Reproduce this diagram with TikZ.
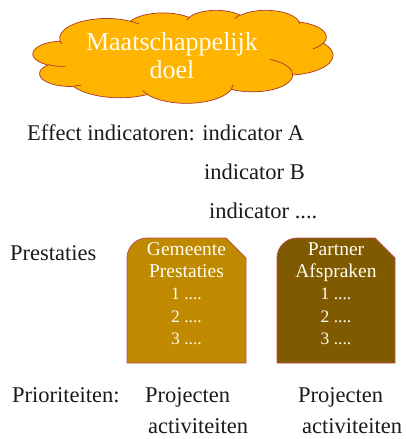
\documentclass[tikz,border=0pt]{standalone}
\usepackage{fontspec}
\setmainfont{Liberation Serif}
\definecolor{cloudfill}{HTML}{FFB400}
\definecolor{cloudedge}{HTML}{A8382C}
\definecolor{boxedge}{HTML}{C0504D}
\definecolor{goldbox}{HTML}{BF8A00}
\definecolor{brownbox}{HTML}{7F5A00}
\definecolor{ink}{HTML}{1A1A1A}
\definecolor{paper}{HTML}{FFFDF0}
\tikzset{
  label/.style={anchor=base west, inner sep=0pt, text=ink, font=\fontsize{22.5}{26}\selectfont},
  boxtext/.style={anchor=base, inner sep=0pt, text=paper, font=\fontsize{19.5}{22}\selectfont},
  numtext/.style={anchor=base, inner sep=0pt, text=paper, font=\fontsize{17.5}{20}\selectfont},
  cloudtext/.style={anchor=base, inner sep=0pt, text=paper, font=\fontsize{26}{29}\selectfont},
  tab/.style={draw=boxedge, line width=0.8pt},
  puff/.style={draw=cloudedge, line width=0.7pt},
}
% Elliptic arc given by its radii and the true (not parametric) start angle
% and sweep, in degrees; stored as an "arc[...]" path piece in \arc<name>.
\newcommand\prearc[5]{%
  \pgfmathsetmacro\tmpa{atan2((#2)*sin(#4),(#3)*cos(#4))}%
  \pgfmathsetmacro\tmpb{atan2((#2)*sin((#4)+(#5)),(#3)*cos((#4)+(#5)))}%
  \pgfmathsetmacro\tmpd{\tmpb-(\tmpa)}%
  \pgfmathsetmacro\tmpd{\tmpd<0 ? \tmpd+360 : \tmpd}%
  \expandafter\xdef\csname arc#1\endcsname{arc[x radius=#2, y radius=#3, start angle=\tmpa, delta angle=\tmpd]}}
% cloud outline
\prearc{A}{675.3}{919.0}{-190.4875}{123.7805}
\prearc{B}{533.3}{726.7}{-144.1024}{89.9452}
\prearc{C}{436.5}{594.5}{-145.8079}{99.7230}
\prearc{D}{485.7}{659.5}{-130.9861}{117.2417}
\prearc{E}{533.3}{727.3}{-78.7089}{109.0269}
\prearc{F}{677.5}{922.0}{-46.2673}{130.2690}
\prearc{G}{578.5}{786.7}{0.6250}{114.0333}
\prearc{H}{675.2}{921.5}{22.4516}{115.1726}
\prearc{I}{772.0}{1054.3}{66.2426}{75.7110}
\prearc{J}{436.0}{591.8}{-274.9421}{146.7356}
\prearc{K}{434.5}{594.5}{-246.8285}{152.5189}
% inner puff strokes
\prearc{a}{434.5}{594.5}{86.7420}{26.4295}
\prearc{b}{436.0}{591.8}{73.6105}{11.4475}
\prearc{c}{675.2}{921.5}{137.6242}{14.0811}
\prearc{d}{675.2}{921.5}{6.4533}{15.9984}
\prearc{e}{578.5}{786.7}{-70.2924}{70.9174}
\prearc{f}{533.3}{727.3}{30.3180}{27.7515}
\prearc{g}{485.7}{659.5}{-13.7443}{14.8589}
\prearc{h}{485.7}{659.5}{-149.1815}{18.1954}
\prearc{i}{436.5}{594.5}{-163.4943}{17.6864}
\prearc{j}{675.3}{919.0}{-66.7070}{12.3194}
\prearc{k}{675.3}{919.0}{157.6544}{11.8582}
\begin{document}
\begin{tikzpicture}[x=1pt, y=-1pt]
\useasboundingbox (0,0) rectangle (406,439);

% goal cloud, drawn in a 4320 x 4320 frame scaled onto its box
\begin{scope}[shift={(33,10)}, x=0.069444pt, y=-0.021528pt]
  \draw[puff, fill=cloudfill] (390,1437) \arcA \arcB \arcC \arcD \arcE \arcF
    \arcG \arcH \arcI \arcJ \arcK -- cycle;
  \draw[puff] (469.3,2617.7) \arca;
  \draw[puff] (692.8,3489.9) \arcb;
  \draw[puff] (1647.8,3909.0) \arcc;
  \draw[puff] (2882.7,3475.1) \arcd;
  \draw[puff] (3412.9,2295.4) \arce;
  \draw[puff] (4179.8,1535.4) \arcf;
  \draw[puff] (3832.4,542.6) \arcg;
  \draw[puff] (2907.8,395.2) \arch;
  \draw[puff] (2214.1,472.0) \arci;
  \draw[puff] (1400.0,519.2) \arcj;
  \draw[puff] (412.7,1578.9) \arck;
\end{scope}
\node (goal1) [cloudtext] at (172,50) {Maatschappelijk};
\node (goal2) [cloudtext] at (172,78) {doel};

% indicators
\node (eff) [label] at (27,140) {Effect indicatoren: indicator A};
\node (indB) [label] at (204,179) {indicator B};
\node (indC) [label] at (209,218) {indicator ....};

% performance tabs
\node (prest) [label] at (10,260) {Prestaties};
\draw[tab, fill=goldbox] (127,363) -- (127,258) .. controls (127,247) and (136,238) .. (147,238)
  -- (226,238) -- (246,258) -- (246,363) -- cycle;
\draw[tab, fill=brownbox] (277,363) -- (277,258) .. controls (277,247) and (286,238) .. (297,238)
  -- (375,238) -- (395,258) -- (395,363) -- cycle;

\node (g1) [boxtext] at (186.5,255) {Gemeente};
\node (g2) [boxtext] at (186.5,277) {Prestaties};
\node (g3) [numtext] at (186.5,299) {1 ....};
\node (g4) [numtext] at (186.5,322) {2 ....};
\node (g5) [numtext] at (186.5,344) {3 ....};

\node (p1) [boxtext] at (336,255) {Partner};
\node (p2) [boxtext] at (336,277) {Afspraken};
\node (p3) [numtext] at (336,299) {1 ....};
\node (p4) [numtext] at (336,322) {2 ....};
\node (p5) [numtext] at (336,344) {3 ....};

% priorities
\node (prio) [label] at (12,402) {Prioriteiten:};
\node (proj1) [label] at (145,402) {Projecten};
\node (proj2) [label] at (298,402) {Projecten};
\node (act1) [label] at (148,433) {activiteiten};
\node (act2) [label] at (302,433) {activiteiten};
\end{tikzpicture}
\end{document}
